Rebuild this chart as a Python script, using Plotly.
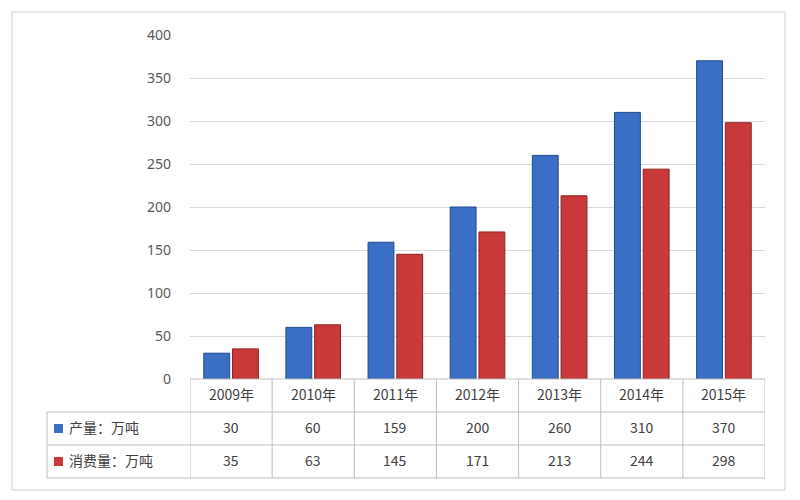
import plotly.graph_objects as go

years = ["2009年", "2010年", "2011年", "2012年", "2013年", "2014年", "2015年"]
production = [30, 60, 159, 200, 260, 310, 370]
consumption = [35, 63, 145, 171, 213, 244, 298]
series_names = ["产量：万吨", "消费量：万吨"]
colors = ["#3b6fc6", "#c83a3a"]
edges = ["#1f4a8f", "#8e2020"]

fig = go.Figure()
for name, vals, c, e in zip(series_names, [production, consumption], colors, edges):
    fig.add_bar(x=years, y=vals, name=name, marker=dict(color=c, line=dict(color=e, width=1)))

OFF = 8  # page body margin
W, H = 800, 500
L, T, R = 190 - OFF, 35 - OFF, 35 + OFF
B = H - (379 - OFF)
pw, ph = W - L - R, H - T - B
def py(px): return (H - B - (px - OFF)) / ph
def pxx(px): return (px - OFF - L) / pw

TXT = 10  # text baseline correction
shapes = []
ann = []
line = dict(color="#bfbfbf", width=1)
rows = [379, 412, 445, 478]
shapes.append(dict(type="line", xref="paper", yref="paper", x0=0, x1=1, y0=py(379), y1=py(379), line=line))
for r in rows[1:]:
    shapes.append(dict(type="line", xref="paper", yref="paper", x0=pxx(47), x1=1, y0=py(r), y1=py(r), line=line))
for i in range(len(years) + 1):
    shapes.append(dict(type="line", xref="x", yref="paper", x0=i - 0.5, x1=i - 0.5, y0=0, y1=py(478), line=line))
shapes.append(dict(type="line", xref="paper", yref="paper", x0=pxx(47), x1=pxx(47), y0=py(412), y1=py(478), line=line))
shapes.append(dict(type="rect", xref="paper", yref="paper", x0=pxx(12), x1=pxx(785), y0=py(12), y1=py(490), line=dict(color="#d0d0d0", width=1)))

font = dict(family="Noto Sans CJK SC, sans-serif", size=14, color="#404040")
for i, yr in enumerate(years):
    ann.append(dict(x=i, y=py(395.5 + TXT), xref="x", yref="paper", text=yr, showarrow=False, font=font))
    for vals, rc in [(production, 428.5), (consumption, 461.5)]:
        ann.append(dict(x=i, y=py(rc + TXT), xref="x", yref="paper", text=str(vals[i]), showarrow=False, font=font))
for name, c, rc in zip(series_names, colors, [428.5, 461.5]):
    shapes.append(dict(type="rect", xref="paper", yref="paper", x0=pxx(54), x1=pxx(63), y0=py(rc - 4.5), y1=py(rc + 4.5), fillcolor=c, line=dict(width=0)))
    ann.append(dict(x=pxx(67), y=py(rc + TXT), xref="paper", yref="paper", text=name, showarrow=False, xanchor="left", font=font))

fig.update_layout(
    width=W, height=H, margin=dict(l=L, r=R, t=T, b=B),
    paper_bgcolor="white", plot_bgcolor="white", showlegend=False,
    barmode="group", bargap=0.3, bargroupgap=0.1,
    xaxis=dict(showticklabels=False, showgrid=False, range=[-0.5, 6.5]),
    yaxis=dict(range=[0, 400], dtick=50, gridcolor="#d9d9d9", zeroline=False,
               tickfont=dict(family="Noto Sans, sans-serif", size=14, color="#595959"), ticklabelstandoff=18),
    shapes=shapes, annotations=ann,
)
fig.write_html("out.html")
